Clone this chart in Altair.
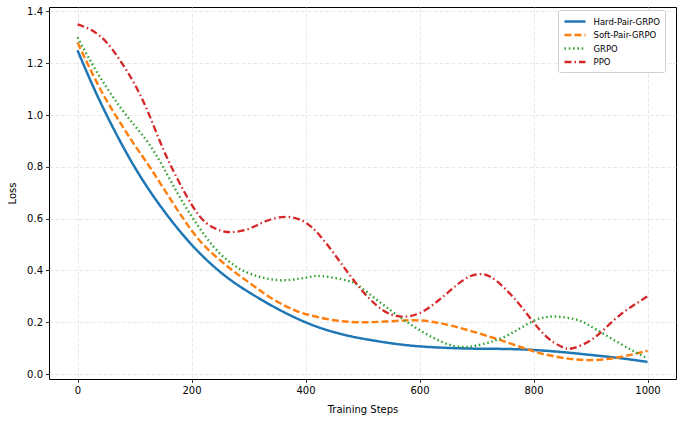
import altair as alt
import pandas as pd

series_names = ["Hard-Pair-GRPO", "Soft-Pair-GRPO", "GRPO", "PPO"]
series_colors = ["#1f77b4", "#ff7f0e", "#2ca02c", "#d62728"]
series_dash = [[1, 0], [7, 3], [1.5, 2.8], [7, 3, 1.5, 3]]
series_width = [2.5, 2.3, 1.7, 1.6]

hard_steps = [0, 25, 50, 75, 100, 125, 150, 175, 200, 225, 250, 275, 300, 325, 350,
              375, 400, 425, 450, 475, 500, 550, 600, 650, 700, 750, 800, 850, 900,
              950, 1000]
hard_loss = [1.25, 1.122, 1.005, 0.898, 0.80, 0.713, 0.635, 0.564, 0.50, 0.444, 0.395,
             0.353, 0.317, 0.284, 0.253, 0.225, 0.200, 0.179, 0.162, 0.148, 0.137,
             0.119, 0.107, 0.101, 0.098, 0.097, 0.093, 0.085, 0.074, 0.062, 0.047]

soft_steps = [0, 25, 50, 75, 100, 125, 150, 175, 200, 225, 250, 275, 300, 325, 350,
              375, 400, 450, 500, 550, 600, 650, 700, 750, 800, 850, 900, 950, 1000]
soft_loss = [1.28, 1.165, 1.06, 0.97, 0.885, 0.805, 0.72, 0.635, 0.555, 0.49, 0.44,
             0.395, 0.355, 0.315, 0.28, 0.252, 0.232, 0.208, 0.200, 0.204, 0.207,
             0.190, 0.160, 0.125, 0.088, 0.063, 0.054, 0.065, 0.090]

grpo_steps = [0, 25, 50, 75, 100, 125, 150, 175, 200, 225, 250, 275, 300, 350, 400,
              430, 475, 500, 550, 600, 650, 680, 700, 750, 800, 840, 875, 900, 950, 1000]
grpo_loss = [1.30, 1.20, 1.11, 1.03, 0.96, 0.89, 0.80, 0.70, 0.61, 0.53, 0.465, 0.42,
             0.39, 0.363, 0.372, 0.378, 0.36, 0.33, 0.245, 0.17, 0.115, 0.105, 0.11,
             0.145, 0.205, 0.222, 0.21, 0.185, 0.12, 0.06]

ppo_steps = [0, 25, 50, 75, 100, 125, 150, 175, 200, 225, 250, 270, 300, 330, 367,
             400, 425, 450, 475, 500, 525, 550, 575, 600, 625, 650, 675, 700, 725,
             750, 775, 800, 825, 850, 870, 900, 925, 950, 975, 1000]
ppo_loss = [1.35, 1.327, 1.283, 1.21, 1.12, 1.005, 0.87, 0.755, 0.655, 0.585, 0.555,
            0.548, 0.56, 0.59, 0.607, 0.585, 0.535, 0.465, 0.39, 0.32, 0.265, 0.23,
            0.222, 0.235, 0.27, 0.315, 0.36, 0.385, 0.375, 0.33, 0.27, 0.20, 0.14,
            0.105, 0.10, 0.13, 0.175, 0.225, 0.265, 0.30]

x_ticks = [0, 200, 400, 600, 800, 1000]
y_ticks = [0.0, 0.2, 0.4, 0.6, 0.8, 1.0, 1.2, 1.4]

frames = []
for name, steps, loss in [
    (series_names[0], hard_steps, hard_loss),
    (series_names[1], soft_steps, soft_loss),
    (series_names[2], grpo_steps, grpo_loss),
    (series_names[3], ppo_steps, ppo_loss),
]:
    frames.append(pd.DataFrame({"step": steps, "loss": loss, "method": name}))
df = pd.concat(frames, ignore_index=True)

FONT = "DejaVu Sans"

legend = alt.Legend(
    title=None,
    orient="none",
    legendX=509,
    legendY=3,
    symbolType="M-2,0H2",
    symbolSize=110,
    symbolOffset=5.5,
    labelFontSize=8.5,
    labelFont=FONT,
    labelColor="black",
    labelOffset=12,
    rowPadding=1.5,
    padding=5,
    fillColor="white",
    strokeColor="#d0d0d0",
    cornerRadius=2,
)

chart = (
    alt.Chart(df)
    .mark_line(interpolate="natural")
    .encode(
        x=alt.X(
            "step:Q",
            scale=alt.Scale(domain=[-50, 1050], nice=False, zero=False),
            axis=alt.Axis(values=x_ticks, title="Training Steps", format="d"),
        ),
        y=alt.Y(
            "loss:Q",
            scale=alt.Scale(domain=[-0.019, 1.417], nice=False, zero=False),
            axis=alt.Axis(values=y_ticks, title="Loss", format=".1f"),
        ),
        color=alt.Color(
            "method:N",
            scale=alt.Scale(domain=series_names, range=series_colors),
            legend=legend,
            sort=series_names,
        ),
        strokeDash=alt.StrokeDash(
            "method:N",
            scale=alt.Scale(domain=series_names, range=series_dash),
            legend=legend,
            sort=series_names,
        ),
        strokeWidth=alt.StrokeWidth(
            "method:N",
            scale=alt.Scale(domain=series_names, range=series_width),
            legend=legend,
            sort=series_names,
        ),
        order=alt.Order("step:Q"),
    )
    .properties(
        width=627,
        height=372,
        autosize=alt.AutoSizeParams(type="none"),
        padding={"left": 49, "top": 7, "right": 7, "bottom": 44},
    )
    .configure_view(stroke="black", strokeWidth=1)
    .configure_axis(
        grid=True,
        gridColor="#e3e3e3",
        gridDash=[4, 2],
        gridWidth=0.8,
        domain=False,
        tickColor="black",
        tickSize=3.5,
        tickWidth=0.8,
        labelFont=FONT,
        labelFontSize=10,
        labelColor="black",
        labelPadding=3,
        titleFont=FONT,
        titleFontSize=10,
        titleFontWeight="normal",
        titleColor="black",
    )
    .configure_axisX(titlePadding=9)
    .configure_axisY(titlePadding=9)
)

chart.save("out.html", embed_options={"renderer": "svg", "actions": False})
